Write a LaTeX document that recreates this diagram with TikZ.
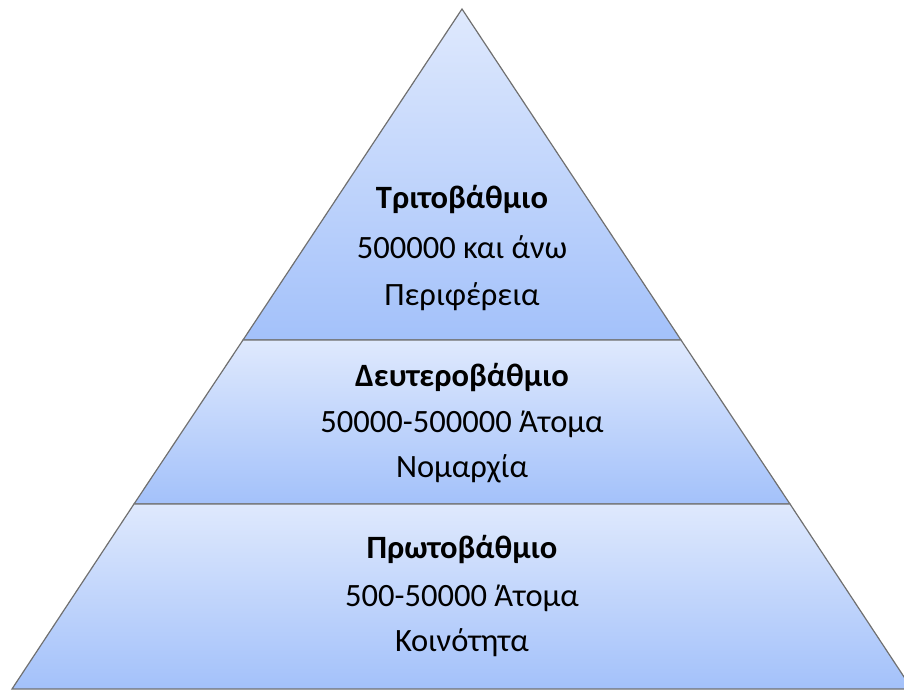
\documentclass[tikz,border=0pt]{standalone}
\usepackage{fontspec}
\setmainfont{Carlito}
\usepackage{xcolor}
\usetikzlibrary{positioning}

\definecolor{bandtop}{RGB}{223,233,253}
\definecolor{bandbottom}{RGB}{163,193,250}
\definecolor{edgegray}{RGB}{112,112,112}

\begin{document}
\begin{tikzpicture}[
    x=0.75pt, y=-0.75pt,
    band/.style={draw=edgegray, line width=0.9pt, top color=bandtop, bottom color=bandbottom, line join=miter},
    title/.style={font=\fontsize{24.4}{28}\selectfont\bfseries, text=black},
    info/.style={font=\fontsize{24.4}{28}\selectfont, text=black}
]
\useasboundingbox (0,0) rectangle (904,691);
\clip (0,0) rectangle (904,691);

% Corners
\coordinate (apex) at (462,9);
\coordinate (topL) at (243,340);
\coordinate (topR) at (681,340);
\coordinate (midL) at (134,504);
\coordinate (midR) at (790,504);
\coordinate (baseL) at (12,689);
\coordinate (baseR) at (912,689);

% Bands
\path[band] (apex) -- (topR) -- (topL) -- cycle;
\path[band] (topL) -- (topR) -- (midR) -- (midL) -- cycle;
\path[band] (midL) -- (midR) -- (baseR) -- (baseL) -- cycle;

% Top Layer
\node[title] (tertiary) at (462,200) {Τριτοβάθμιο};
\node[info] (tertiarypop) at (462,247) {500000 και άνω};
\node[info] (region) at (462,297) {Περιφέρεια};

% Middle Layer
\node[title] (secondary) at (462,378) {Δευτεροβάθμιο};
\node[info] (secondarypop) at (462,424) {50000-500000 Άτομα};
\node[info] (prefecture) at (462,469) {Νομαρχία};

% Bottom Layer
\node[title] (primary) at (462,550) {Πρωτοβάθμιο};
\node[info] (primarypop) at (462,598) {500-50000 Άτομα};
\node[info] (community) at (462,643) {Κοινότητα};

\end{tikzpicture}
\end{document}
